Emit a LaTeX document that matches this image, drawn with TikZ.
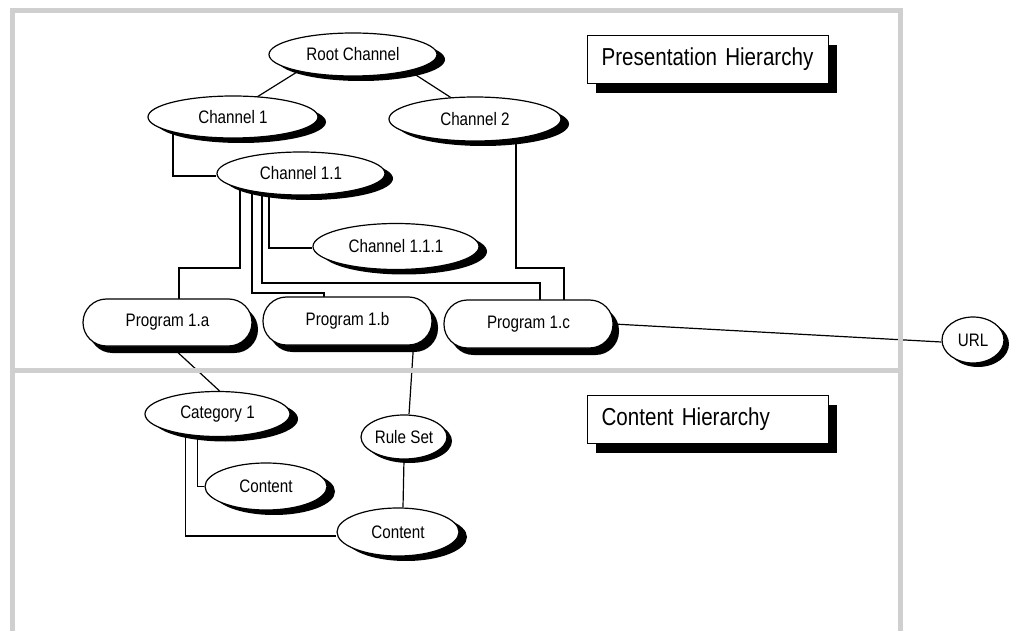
\documentclass[tikz,border=0pt]{standalone}
\usepackage{fontspec}
\setmainfont{Liberation Sans}[FakeStretch=0.84]
\usetikzlibrary{shapes.geometric,shadows}
\pgfdeclarelayer{background}
\pgfsetlayers{background,main}
\newcommand\labelfont{\fontsize{18.1}{20}\selectfont\spaceskip=0.24em\relax}
\newcommand\headfont{\fontsize{24.5}{28}\selectfont\spaceskip=0.24em\relax}
\begin{document}
\begin{tikzpicture}[x=1pt,y=-1pt,
  every node/.style={inner sep=0pt, line width=1.2pt, draw=black, fill=white,
    font=\labelfont},
  oval/.style={ellipse, general shadow={shadow xshift=8pt, shadow yshift=-5pt, fill=black}},
  smalloval/.style={ellipse, general shadow={shadow xshift=5pt, shadow yshift=-4pt, fill=black}},
  program/.style={rectangle, rounded corners=23.5pt, minimum width=169pt, minimum height=47pt,
    general shadow={shadow xshift=6pt, shadow yshift=-7pt, fill=black}},
  titlebox/.style={rectangle, anchor=north west, minimum width=241pt, minimum height=48pt,
    text width=213pt, inner xsep=14pt, align=left, font=\headfont,
    general shadow={shadow xshift=8pt, shadow yshift=-9pt, fill=black}},
  link/.style={line width=1.2pt, line join=miter},
  frame/.style={line width=5pt, draw=black!19}]
\useasboundingbox (0,0) rectangle (1010,631);

% presentation hierarchy
\node[oval, minimum width=168pt, minimum height=43pt] (root) at (353,54.5) {Root Channel};
\node[oval, minimum width=170pt, minimum height=42pt] (ch1) at (233,117) {Channel 1};
\node[oval, minimum width=172pt, minimum height=44pt] (ch2) at (475,119) {Channel 2};
\node[oval, minimum width=168pt, minimum height=43pt] (ch11) at (301,173.5) {Channel 1.1};
\node[oval, minimum width=166pt, minimum height=46pt] (ch111) at (396,246.5) {Channel 1.1.1};
\node[program] (p1a) at (167.5,322.5) {Program 1.a};
\node[program, minimum height=48pt] (p1b) at (347.5,321) {Program 1.b};
\node[program, minimum height=48pt] (p1c) at (528.5,324) {Program 1.c};
\node[smalloval, minimum width=62pt, minimum height=46pt] (url) at (973,340) {URL};
\node[titlebox] (ptitle) at (587,35) {Presentation Hierarchy};

% content hierarchy
\node[oval, minimum width=145pt, minimum height=45pt] (cat1) at (217.5,414) {Category 1};
\node[smalloval, minimum width=86pt, minimum height=44pt] (rs) at (404,437) {Rule Set};
\node[oval, minimum width=122pt, minimum height=47pt] (cont1) at (266,486.5) {Content};
\node[oval, minimum width=122pt, minimum height=48pt] (cont2) at (398,532) {Content};
\node[titlebox] (ctitle) at (587,395) {Content Hierarchy};

\begin{pgfonlayer}{background}
  % connectors
  \draw[link] ([shift={(-48,12.5)}]root.center) -- ([shift={(14.4,-14)}]ch1.center);
  \draw[link] ([shift={(52,13.5)}]root.center) -- ([shift={(-16.6,-16.6)}]ch2.center);
  \draw[link] ([shift={(-60,0)}]ch1.center) |- ([shift={(0,2.5)}]ch11.west);
  \draw[link] ([shift={(41,0)}]ch2.center) |- ([shift={(35.5,-56)}]p1c.center)
              -- ([shift={(35.5,0)}]p1c.center);
  \draw[link] ([shift={(-61,0)}]ch11.center) |- ([shift={(11.5,-54.5)}]p1a.center)
              -- ([shift={(11.5,0)}]p1a.center);
  \draw[link] ([shift={(-49,0)}]ch11.center) |- ([shift={(-23.5,-28)}]p1b.center)
              -- ([shift={(-23.5,0)}]p1b.center);
  \draw[link] ([shift={(-39,0)}]ch11.center) |- ([shift={(11.5,-41)}]p1c.center)
              -- ([shift={(11.5,0)}]p1c.center);
  \draw[link] ([shift={(-32,0)}]ch11.center) |- ([shift={(0,1.5)}]ch111.west);
  \draw[link] (p1c.east) -- ([shift={(0,2)}]url.west);
  \draw[link] ([shift={(4,0)}]p1a.south) -- ([shift={(2,0)}]cat1.north);
  \draw[link] ([shift={(66,0)}]p1b.south) -- ([shift={(5,0)}]rs.north);
  \draw[link] (rs.south) -- ([shift={(5,0)}]cont2.north);
  \draw[link] ([shift={(-20,0)}]cat1.center) |- (cont1.west);
  \draw[link] ([shift={(-32,0)}]cat1.center) |- ([shift={(0,4)}]cont2.west);
  % frame of the two areas
  \draw[frame] (12.5,631) -- (12.5,10.5) -- (900,10.5) -- (900,631);
  \draw[frame] (12.5,370.5) -- (900,370.5);
\end{pgfonlayer}
\end{tikzpicture}
\end{document}
